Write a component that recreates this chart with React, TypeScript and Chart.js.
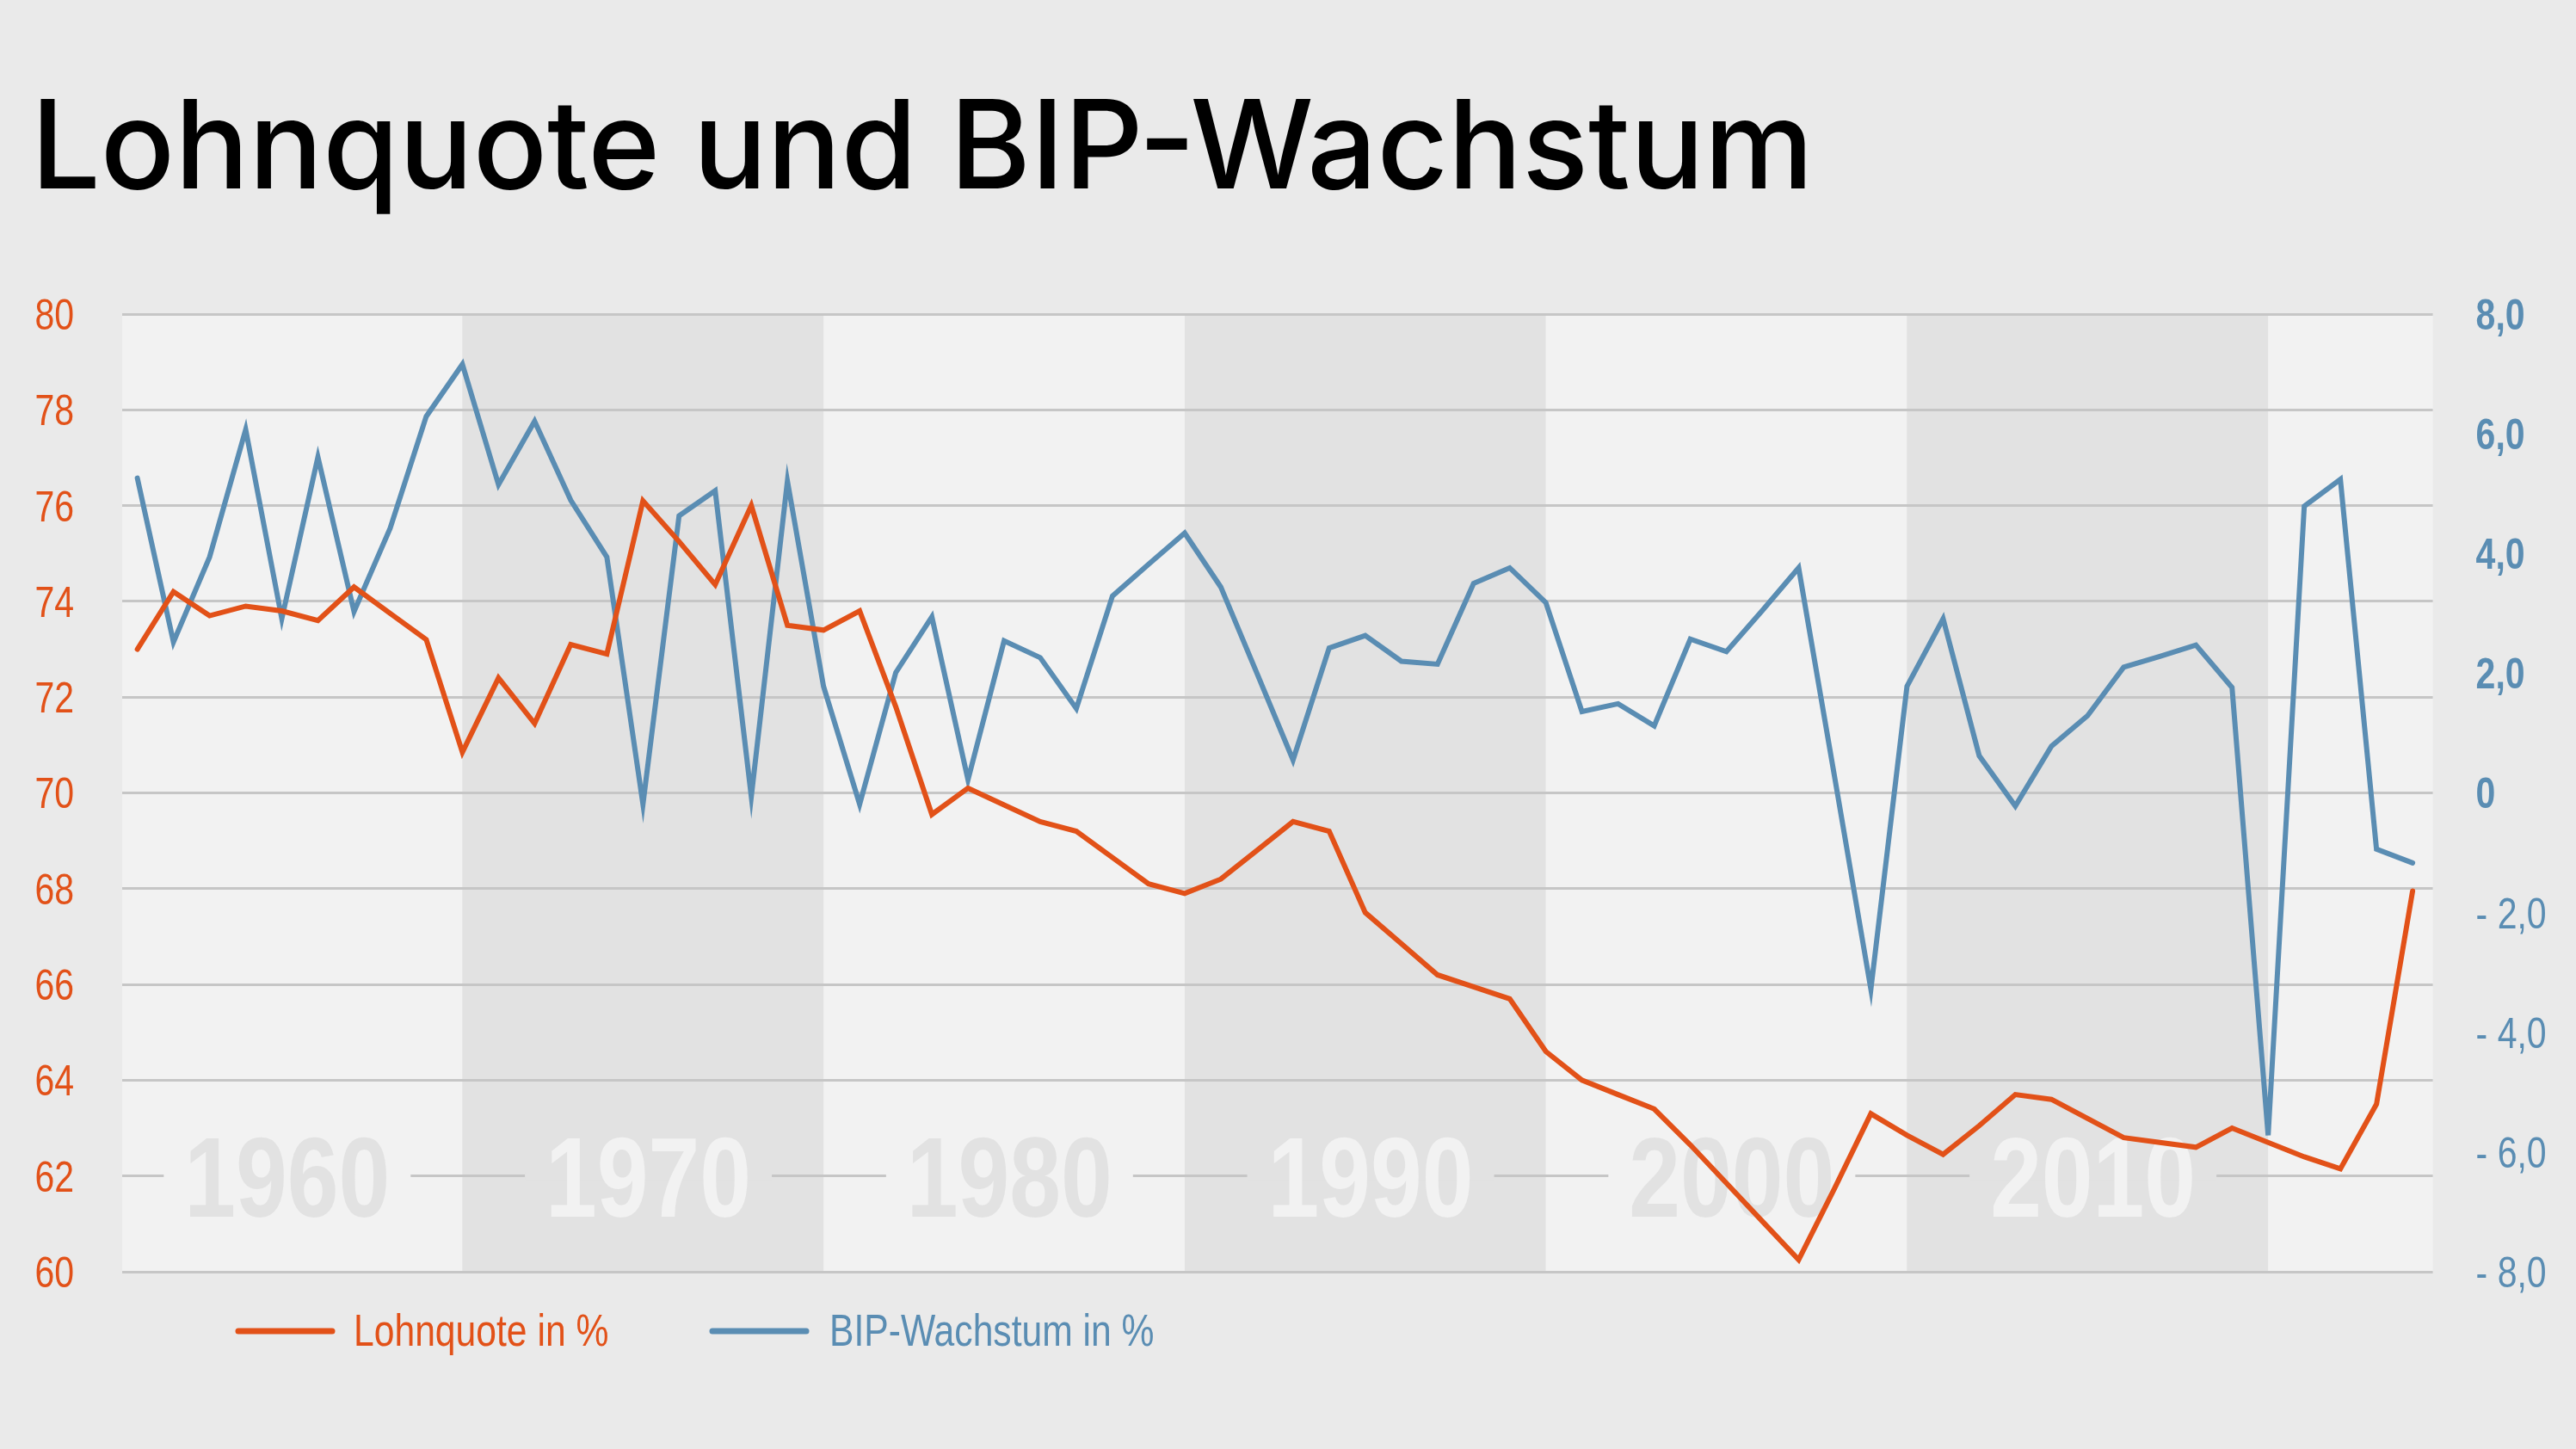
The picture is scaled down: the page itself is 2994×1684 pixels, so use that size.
import React, { useEffect, useRef } from "react";
import { Chart, registerables } from "chart.js";

Chart.register(...registerables);

// ---------- data ----------
const years = [
  1961, 1962, 1963, 1964, 1965, 1966, 1967, 1968, 1969, 1970,
  1971, 1972, 1973, 1974, 1975, 1976, 1977, 1978, 1979, 1980,
  1981, 1982, 1983, 1984, 1985, 1986, 1987, 1988, 1989, 1990,
  1991, 1992, 1993, 1994, 1995, 1996, 1997, 1998, 1999, 2000,
  2001, 2002, 2003, 2004, 2005, 2006, 2007, 2008, 2009, 2010,
  2011, 2012, 2013, 2014, 2015, 2016, 2017, 2018, 2019, 2020,
  2021, 2022, 2023, 2024,
];

const lohnquote = [
  73.0, 74.2, 73.7, 73.9, 73.8, 73.6, 74.3, 73.75, 73.2, 70.85,
  72.4, 71.45, 73.1, 72.9, 76.1, 75.25, 74.35, 76.0, 73.5, 73.4,
  73.8, 71.8, 69.55, 70.1, 69.75, 69.4, 69.2, 68.65, 68.1, 67.9,
  68.2, 68.8, 69.4, 69.2, 67.5, 66.85, 66.2, 65.95, 65.7, 64.6,
  64.0, 63.7, 63.4, 62.65, 61.85, 61.05, 60.25, 61.75, 63.3, 62.85,
  62.45, 63.05, 63.7, 63.6, 63.2, 62.8, 62.7, 62.6, 63.0, 62.7,
  62.4, 62.15, 63.5, 67.95,
];

const bipWachstum = [
  5.26, 2.52, 3.94, 6.07, 2.91, 5.61, 3.03, 4.42, 6.29, 7.16,
  5.15, 6.21, 4.89, 3.94, -0.19, 4.63, 5.05, -0.06, 5.21, 1.78,
  -0.19, 2.01, 2.94, 0.22, 2.54, 2.26, 1.41, 3.29, 3.82, 4.34,
  3.44, 2.0, 0.55, 2.42, 2.63, 2.2, 2.15, 3.5, 3.76, 3.18,
  1.36, 1.49, 1.12, 2.57, 2.36, 3.05, 3.76, 0.25, -3.28, 1.78,
  2.91, 0.62, -0.22, 0.78, 1.29, 2.1, 2.28, 2.47, 1.76, -5.72,
  4.79, 5.24, -0.94, -1.17,
];

const bandStarts = [1960, 1970, 1980, 1990, 2000, 2010, 2020];
const decadeLabels = ["1960", "1970", "1980", "1990", "2000", "2010"];
const seriesLabels = ["Lohnquote in %", "BIP-Wachstum in %"];
const titleText = "Lohnquote und BIP-Wachstum";

// ---------- styles ----------
const W = 2994;
const H = 1684;
const ORANGE = "#E25118";
const BLUE = "#5A8DB3";
const BAND_LIGHT = "#F2F2F2";
const BAND_DARK = "#E2E2E2";
const PAGE_BG = "#EAEAEA";
const GRID = "#C6C6C6";
const SANS = "'Liberation Sans', Arial, sans-serif";
const SQUEEZE = 0.82;

const AREA_LEFT = 142;
const AREA_RIGHT = 2827.6;
const AREA_TOP = 365;
const AREA_BOTTOM = 1478;

function fmtRight(v: number): string {
  if (v === 0) return "0";
  const s = Math.abs(v).toFixed(1).replace(".", ",");
  return v < 0 ? "- " + s : s;
}

// condensed text: regular sans squeezed horizontally
function narrowText(
  ctx: CanvasRenderingContext2D,
  text: string,
  x: number,
  y: number,
  size: number,
  weight: string,
  color: string,
  align: CanvasTextAlign
) {
  ctx.save();
  ctx.translate(x, y);
  ctx.scale(SQUEEZE, 1);
  ctx.font = `${weight} ${size}px ${SANS}`;
  ctx.fillStyle = color;
  ctx.textAlign = align;
  ctx.textBaseline = "alphabetic";
  ctx.fillText(text, 0, 0);
  ctx.restore();
}

function narrowWidth(ctx: CanvasRenderingContext2D, text: string, size: number, weight: string) {
  ctx.save();
  ctx.font = `${weight} ${size}px ${SANS}`;
  const w = ctx.measureText(text).width * SQUEEZE;
  ctx.restore();
  return w;
}

const bandPlugin = {
  id: "bands",
  beforeDraw(chart: any) {
    const { ctx, chartArea } = chart;
    const xs = chart.scales.x;
    ctx.save();
    bandStarts.forEach((d) => {
      const x0 = Math.max(chartArea.left, xs.getPixelForValue(d));
      const x1 = Math.min(chartArea.right, xs.getPixelForValue(d + 10));
      if (x1 <= x0) return;
      ctx.fillStyle = (d / 10) % 2 === 0 ? BAND_LIGHT : BAND_DARK;
      ctx.fillRect(x0, chartArea.top, x1 - x0, chartArea.bottom - chartArea.top);
    });
    ctx.restore();
  },
};

const decadePlugin = {
  id: "decades",
  beforeDatasetsDraw(chart: any) {
    const { ctx } = chart;
    const xs = chart.scales.x;
    const y = chart.scales.y.getPixelForValue(62);
    const size = 131;
    decadeLabels.forEach((label, i) => {
      const d = bandStarts[i];
      const light = (d / 10) % 2 === 0;
      const cx = xs.getPixelForValue(d + 5.15);
      const w = narrowWidth(ctx, label, size, "bold");
      ctx.save();
      ctx.fillStyle = light ? BAND_LIGHT : BAND_DARK;
      ctx.fillRect(cx - w / 2 - 24, y - 5, w + 48, 10);
      ctx.restore();
      narrowText(ctx, label, cx, y + 0.358 * size, size, "bold", light ? BAND_DARK : BAND_LIGHT, "center");
    });
  },
};

const tickLabelPlugin = {
  id: "tickLabels",
  afterDraw(chart: any) {
    const { ctx } = chart;
    const yl = chart.scales.y;
    const yr = chart.scales.y1;
    const size = 50;
    yl.ticks.forEach((t: any) => {
      const py = yl.getPixelForValue(t.value);
      narrowText(ctx, String(t.value), AREA_LEFT - 56, py + 0.358 * size, size, "normal", ORANGE, "right");
    });
    yr.ticks.forEach((t: any) => {
      const py = yr.getPixelForValue(t.value);
      narrowText(
        ctx,
        fmtRight(t.value),
        AREA_RIGHT + 50,
        py + 0.358 * size,
        size,
        t.value >= 0 ? "bold" : "normal",
        BLUE,
        "left"
      );
    });
  },
};

const legendPlugin = {
  id: "customLegend",
  afterDraw(chart: any) {
    const { ctx } = chart;
    const items = [
      { label: seriesLabels[0], color: ORANGE, x0: 277, x1: 386, tx: 411 },
      { label: seriesLabels[1], color: BLUE, x0: 828, x1: 937, tx: 964 },
    ];
    items.forEach((it) => {
      ctx.save();
      ctx.strokeStyle = it.color;
      ctx.lineWidth = 7;
      ctx.lineCap = "round";
      ctx.beginPath();
      ctx.moveTo(it.x0, 1547);
      ctx.lineTo(it.x1, 1547);
      ctx.stroke();
      ctx.restore();
      narrowText(ctx, it.label, it.tx, 1564, 52, "normal", it.color, "left");
    });
  },
};

function LineChart() {
  const ref = useRef<HTMLCanvasElement | null>(null);

  useEffect(() => {
    if (!ref.current) return;
    const chart = new Chart(ref.current, {
      type: "line",
      data: {
        datasets: [
          {
            label: seriesLabels[0],
            data: years.map((yr, i) => ({ x: yr, y: lohnquote[i] })),
            yAxisID: "y",
            borderColor: ORANGE,
            backgroundColor: ORANGE,
            borderWidth: 6,
            pointRadius: 0,
            tension: 0,
            borderJoinStyle: "miter",
            borderCapStyle: "round",
          },
          {
            label: seriesLabels[1],
            data: years.map((yr, i) => ({ x: yr, y: bipWachstum[i] })),
            yAxisID: "y1",
            borderColor: BLUE,
            backgroundColor: BLUE,
            borderWidth: 6,
            pointRadius: 0,
            tension: 0,
            borderJoinStyle: "miter",
            borderCapStyle: "round",
          },
        ],
      },
      options: {
        animation: false,
        responsive: false,
        maintainAspectRatio: false,
        layout: {
          padding: { top: AREA_TOP, bottom: H - AREA_BOTTOM, left: 0, right: 0 },
        },
        plugins: {
          legend: { display: false },
          tooltip: { enabled: false },
        },
        scales: {
          x: {
            type: "linear",
            display: false,
            min: 1960.58,
            max: 2024.56,
          },
          y: {
            position: "left",
            min: 60,
            max: 80,
            ticks: { stepSize: 2, display: false },
            grid: { color: GRID, lineWidth: 3, drawTicks: false },
            border: { display: false },
            afterFit: (s: any) => {
              s.width = AREA_LEFT;
            },
          },
          y1: {
            position: "right",
            min: -8,
            max: 8,
            ticks: { stepSize: 2, display: false },
            grid: { display: false, drawTicks: false },
            border: { display: false },
            afterFit: (s: any) => {
              s.width = W - AREA_RIGHT;
            },
          },
        },
      } as any,
      plugins: [bandPlugin, decadePlugin, tickLabelPlugin, legendPlugin],
    });
    return () => chart.destroy();
  }, []);

  return (
    <canvas
      ref={ref}
      width={W}
      height={H}
      style={{ position: "absolute", left: 0, top: 0, width: W, height: H, display: "block" }}
    />
  );
}

export default function App() {
  return (
    <div
      style={{
        position: "fixed",
        left: 0,
        top: 0,
        width: W,
        height: H,
        background: PAGE_BG,
        overflow: "hidden",
      }}
    >
      <LineChart />
      <div
        style={{
          position: "absolute",
          left: 36,
          top: 95,
          fontFamily: "Inter, 'Noto Sans', sans-serif",
          fontWeight: 500,
          fontSize: 143,
          lineHeight: "143px",
          color: "#000",
          whiteSpace: "nowrap",
        }}
      >
        {titleText}
      </div>
    </div>
  );
}
